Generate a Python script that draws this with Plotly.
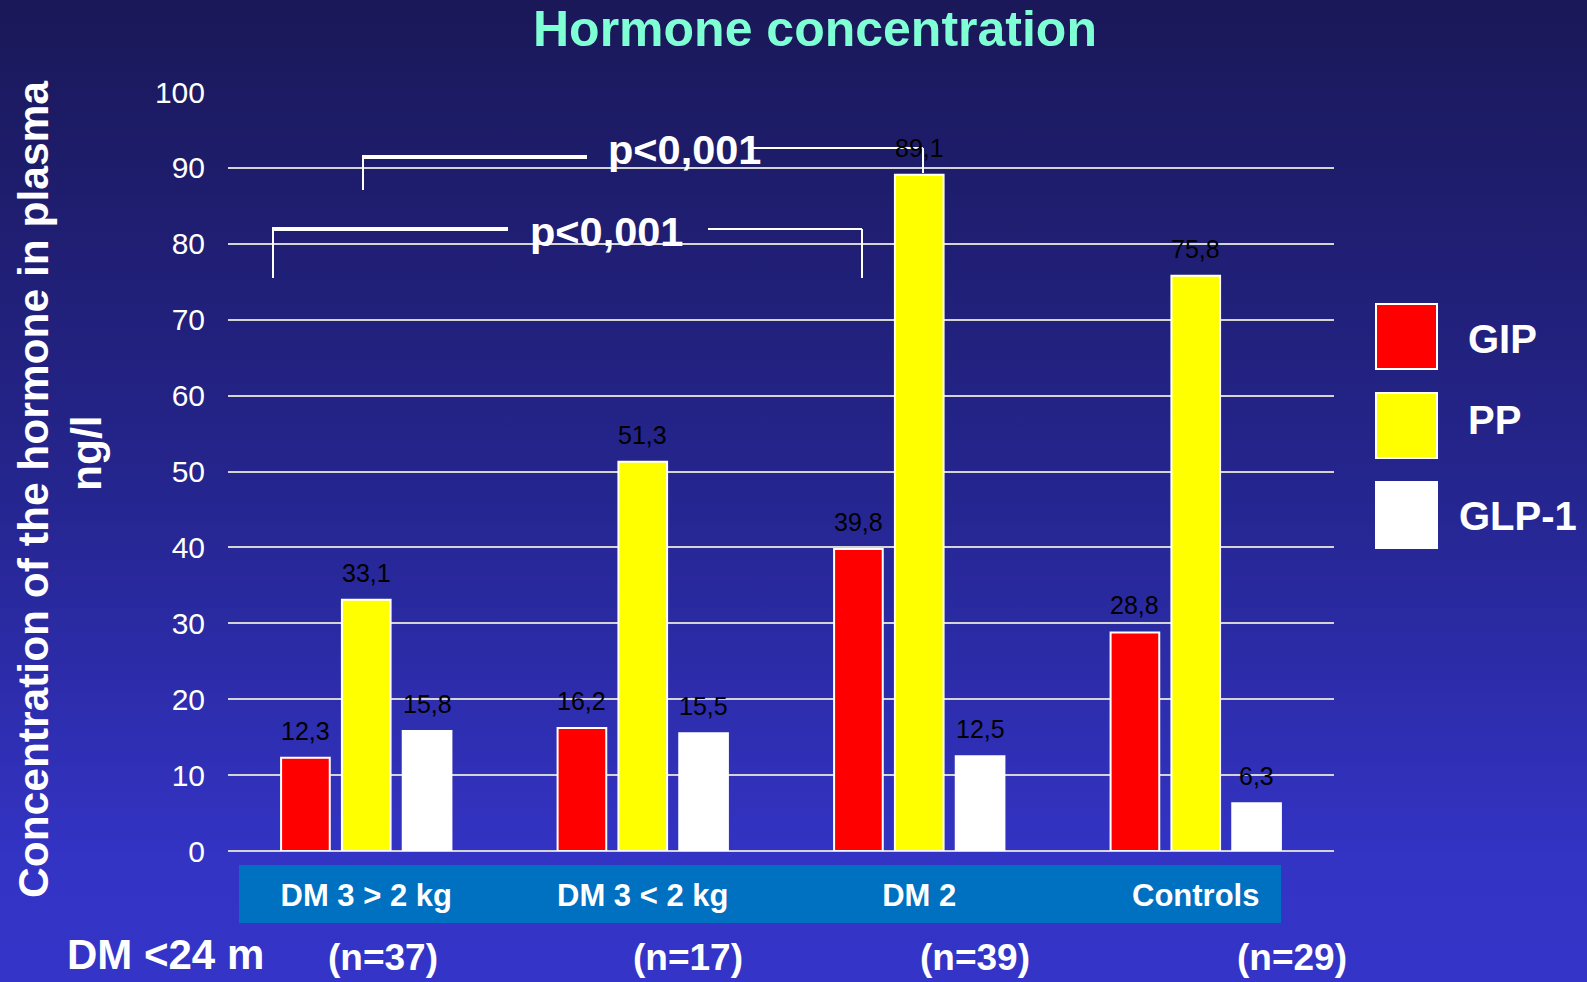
import base64
import plotly.graph_objects as go

# ---- data ----
categories = ["DM 3 > 2 kg", "DM 3 < 2 kg", "DM 2", "Controls"]
series_names = ["GIP", "PP", "GLP-1"]
gip = [12.3, 16.2, 39.8, 28.8]
pp = [33.1, 51.3, 89.1, 75.8]
glp1 = [15.8, 15.5, 12.5, 6.3]
group_n = ["(n=37)", "(n=17)", "(n=39)", "(n=29)"]
y_ticks = [0, 10, 20, 30, 40, 50, 60, 70, 80, 90, 100]
colors = ["#ff0000", "#ffff00", "#ffffff"]
values = [gip, pp, glp1]

W, H = 1587, 982
L, R, T, B = 228, 253, 92, 131
PW, PH = W - L - R, H - T - B


def px(X):
    return (X - L) / PW


def py(Y):
    return (H - B - Y) / PH


FONT = "Liberation Sans, Arial, sans-serif"

fig = go.Figure()
for name, vals, col in zip(series_names, values, colors):
    fig.add_trace(go.Bar(
        name=name, x=categories, y=vals,
        marker=dict(color=col, line=dict(color="white", width=2)),
        showlegend=False,
    ))

# value labels above bars
pitch = PW / len(categories) * (1 - 0.34) / 3
annotations = []
for i, vals in enumerate(values):
    for c, v in zip(categories, vals):
        annotations.append(dict(
            x=c, y=v, xref="x", yref="y", text=f"{v:.1f}".replace(".", ","),
            showarrow=False, xshift=(i - 1) * pitch, yshift=11, yanchor="bottom",
            font=dict(family=FONT, size=25, color="black"),
        ))

# title
annotations.append(dict(
    x=px(815), y=py(29), xref="paper", yref="paper", text="Hormone concentration",
    showarrow=False, xanchor="center", yanchor="middle",
    font=dict(family=FONT, size=50, color="#7fffd4", weight="bold"),
))
# y axis title (two lines)
annotations.append(dict(
    x=px(33), y=py(490), xref="paper", yref="paper",
    text="Concentration of the hormone in plasma", textangle=-90,
    showarrow=False, xanchor="center", yanchor="middle",
    font=dict(family=FONT, size=42.5, color="white", weight="bold"),
))
annotations.append(dict(
    x=px(86), y=py(453), xref="paper", yref="paper", text="ng/l", textangle=-90,
    showarrow=False, xanchor="center", yanchor="middle",
    font=dict(family=FONT, size=42.5, color="white", weight="bold"),
))
# bottom row
annotations.append(dict(
    x=px(165), y=py(954), xref="paper", yref="paper", text="DM <24 m",
    showarrow=False, xanchor="center", yanchor="middle",
    font=dict(family=FONT, size=42, color="white", weight="bold"),
))
for xc, t in zip([383, 688, 975, 1292], group_n):
    annotations.append(dict(
        x=px(xc), y=py(957), xref="paper", yref="paper", text=t,
        showarrow=False, xanchor="center", yanchor="middle",
        font=dict(family=FONT, size=37, color="white", weight="bold"),
    ))
# p-values
for xc, yc in [(684, 150), (606, 231)]:
    annotations.append(dict(
        x=px(xc), y=py(yc), xref="paper", yref="paper", text="p<0,001",
        showarrow=False, xanchor="center", yanchor="middle",
        font=dict(family=FONT, size=41.5, color="white", weight="bold"),
    ))
# legend labels
for (xl, yc), name in zip([(1466, 339), (1466, 420), (1457, 516)], series_names):
    annotations.append(dict(
        x=px(xl), y=py(yc), xref="paper", yref="paper", text=name,
        showarrow=False, xanchor="left", yanchor="middle",
        font=dict(family=FONT, size=40, color="white", weight="bold"),
    ))

shapes = []
# category band
shapes.append(dict(type="rect", xref="paper", yref="paper", layer="below",
                   x0=px(239), x1=px(1281), y0=py(865), y1=py(923),
                   fillcolor="#0070c0", line=dict(width=0)))
# legend swatches
for (y0, y1), col in zip([(304, 369), (393, 458), (482, 548)], colors):
    shapes.append(dict(type="rect", xref="paper", yref="paper",
                       x0=px(1376), x1=px(1437), y0=py(y1), y1=py(y0),
                       fillcolor=col, line=dict(color="white", width=2)))


def seg(x0, y0, x1, y1, w):
    shapes.append(dict(type="line", xref="paper", yref="paper",
                       x0=px(x0), y0=py(y0), x1=px(x1), y1=py(y1),
                       line=dict(color="white", width=w)))


# upper bracket
seg(363, 190, 363, 157, 2)
seg(362, 157, 587, 157, 4)
seg(748, 148, 923, 148, 2)
seg(923, 148, 923, 173, 2)
# lower bracket
seg(273, 278, 273, 229, 2)
seg(272, 229, 508, 229, 4)
seg(708, 229, 862, 229, 2)
seg(862, 229, 862, 278, 2)

# gradient background
svg = ('<svg xmlns="http://www.w3.org/2000/svg" width="100" height="100" preserveAspectRatio="none">'
       '<defs><linearGradient id="g" x1="0" y1="0" x2="0" y2="1">'
       '<stop offset="0" stop-color="#1a1858"/>'
       '<stop offset="0.5" stop-color="#25258f"/>'
       '<stop offset="0.87" stop-color="#3333c4"/>'
       '<stop offset="1" stop-color="#3434c8"/>'
       '</linearGradient></defs><rect width="100" height="100" fill="url(#g)"/></svg>')
src = "data:image/svg+xml;base64," + base64.b64encode(svg.encode()).decode()

fig.update_layout(
    width=W, height=H,
    margin=dict(l=L, r=R, t=T, b=B, pad=0),
    paper_bgcolor="#2a2a9a", plot_bgcolor="rgba(0,0,0,0)",
    barmode="group", bargap=0.34, bargroupgap=0.2,
    showlegend=False,
    annotations=annotations, shapes=shapes,
    images=[dict(source=src, xref="paper", yref="paper", x=px(0), y=py(0),
                 sizex=px(W) - px(0), sizey=py(0) - py(H), sizing="stretch",
                 xanchor="left", yanchor="top", layer="below")],
    font=dict(family=FONT, color="white"),
)
fig.update_yaxes(range=[0, 100], tickvals=y_ticks, showgrid=True, gridcolor="#d4d4d4",
                 gridwidth=2, zeroline=True, zerolinecolor="#d4d4d4", zerolinewidth=2,
                 showline=False, ticks="", ticklabelstandoff=22,
                 tickfont=dict(family=FONT, size=30, color="white"), fixedrange=True)
fig.update_xaxes(showgrid=False, showline=False, ticks="", ticklabelstandoff=23,
                 tickfont=dict(family=FONT, size=31, color="white", weight="bold"))

fig.write_html("out.html", config={"displayModeBar": False},
               post_script="document.body.style.margin='0px';document.body.style.overflow='hidden';")
